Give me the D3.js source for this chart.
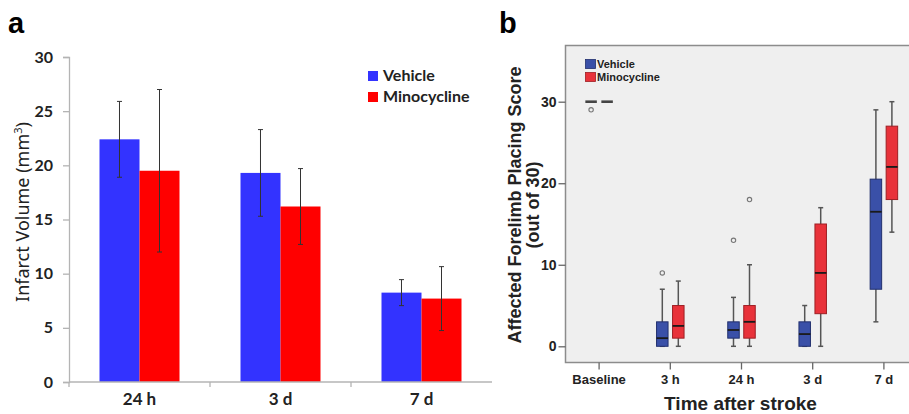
<!DOCTYPE html>
<html>
<head>
<meta charset="utf-8">
<script src="https://cdn.jsdelivr.net/npm/d3@7"></script>
<style>
  body { margin: 0; background: #fff; }
  svg { display: block; }
</style>
</head>
<body>
<div id="chart"></div>
<script>
// ---- panel a data: infarct volume (mean +/- error) ----
const catsA = ["24 h", "3 d", "7 d"];
const seriesNames = ["Vehicle", "Minocycline"];
const vehicleMean = [22.4, 19.3, 8.25];
const vehicleErr = [3.5, 4.0, 1.2];
const minoMean = [19.5, 16.2, 7.7];
const minoErr = [7.5, 3.5, 2.95];
const ticksA = [0, 5, 10, 15, 20, 25, 30];

// ---- panel b data: forelimb placing score boxplots ----
const catsB = ["Baseline", "3 h", "24 h", "3 d", "7 d"];
const vehLow = [30, 0, 0, 0, 3];
const vehQ1 = [30, 0, 1, 0, 7];
const vehMedian = [30, 1, 2, 1.5, 16.5];
const vehQ3 = [30, 3, 3, 3, 20.5];
const vehHigh = [30, 7, 6, 5, 29];
const vehOutliers = [[29], [9], [13], [], []];
const minoLow = [30, 0, 0, 0, 14];
const minoQ1 = [30, 1, 1, 4, 18];
const minoMedian = [30, 2.5, 3, 9, 22];
const minoQ3 = [30, 5, 5, 15, 27];
const minoHigh = [30, 8, 10, 17, 30];
const minoOutliers = [[], [], [18], [], []];
const ticksB = [0, 10, 20, 30];

const width = 909, height = 414;
const svg = d3.select("#chart").append("svg")
    .attr("width", width)
    .attr("height", height);

// ================= panel a =================
const fontA = "Lato, 'Open Sans', sans-serif";
const colorsA = {Vehicle: "#3333ff", Minocycline: "#ff0000"};

const x0 = d3.scaleBand().domain(catsA).range([69, 492]).paddingInner(0.4326).paddingOuter(0.2163);
const x1 = d3.scaleBand().domain(seriesNames).range([0, x0.bandwidth()]);
const yA = d3.scaleLinear().domain([0, 30]).range([382, 57]);

const barsA = [];
catsA.forEach((c, i) => {
  barsA.push({cat: c, s: "Vehicle", v: vehicleMean[i], e: vehicleErr[i]});
  barsA.push({cat: c, s: "Minocycline", v: minoMean[i], e: minoErr[i]});
});

const gA = svg.append("g");

// y axis
const yAxisA = gA.append("g")
    .attr("transform", "translate(69,0)")
    .call(d3.axisLeft(yA).tickValues(ticksA).tickSize(6).tickPadding(10));
yAxisA.select(".domain").attr("stroke", "#b4b4b4").attr("stroke-width", 1.3);
yAxisA.selectAll(".tick line").attr("stroke", "#b4b4b4").attr("stroke-width", 1.3);
yAxisA.selectAll(".tick text")
    .attr("font-family", fontA).attr("font-weight", "bold")
    .attr("font-size", 16).attr("fill", "#222");

// bars
gA.selectAll(".bar")
  .data(barsA)
  .enter().append("rect")
    .attr("x", d => x0(d.cat) + x1(d.s))
    .attr("y", d => yA(d.v))
    .attr("width", x1.bandwidth())
    .attr("height", d => yA(0) - yA(d.v))
    .attr("fill", d => colorsA[d.s]);

// error bars
const errG = gA.selectAll(".err")
  .data(barsA)
  .enter().append("g")
    .attr("stroke", "#333")
    .attr("stroke-width", 1);
errG.append("line")
    .attr("x1", d => x0(d.cat) + x1(d.s) + x1.bandwidth() / 2)
    .attr("x2", d => x0(d.cat) + x1(d.s) + x1.bandwidth() / 2)
    .attr("y1", d => yA(d.v + d.e))
    .attr("y2", d => yA(d.v - d.e));
errG.selectAll(".cap")
  .data(d => [d.v + d.e, d.v - d.e].map(v => ({d, v})))
  .enter().append("line")
    .attr("x1", p => x0(p.d.cat) + x1(p.d.s) + x1.bandwidth() / 2 - 2.5)
    .attr("x2", p => x0(p.d.cat) + x1(p.d.s) + x1.bandwidth() / 2 + 2.5)
    .attr("y1", p => yA(p.v))
    .attr("y2", p => yA(p.v));

// x axis
gA.append("line")
    .attr("x1", 69).attr("x2", 492)
    .attr("y1", yA(0)).attr("y2", yA(0))
    .attr("stroke", "#b4b4b4").attr("stroke-width", 1.3);
const sepTicks = [0, 1, 2];
gA.selectAll(".sep")
  .data(sepTicks)
  .enter().append("line")
    .attr("x1", i => x0.range()[0] + i * x0.step())
    .attr("x2", i => x0.range()[0] + i * x0.step())
    .attr("y1", yA(0)).attr("y2", yA(0) + 5)
    .attr("stroke", "#b4b4b4").attr("stroke-width", 1.3);
gA.selectAll(".xlab")
  .data(catsA)
  .enter().append("text")
    .attr("x", d => x0(d) + x0.bandwidth() / 2)
    .attr("y", 405)
    .attr("text-anchor", "middle")
    .attr("font-family", fontA).attr("font-weight", "bold")
    .attr("font-size", 17).attr("fill", "#222")
    .text(d => d);

// y title
const yTitleA = gA.append("text")
    .attr("transform", "translate(29,212) rotate(-90)")
    .attr("text-anchor", "middle")
    .attr("font-family", "'Noto Sans', sans-serif").attr("font-size", 18).attr("fill", "#222");
yTitleA.append("tspan").text("Infarct Volume (mm");
yTitleA.append("tspan").attr("font-size", 11).attr("dy", -7).text("3");
yTitleA.append("tspan").attr("dy", 7).text(")");

// legend
const legA = gA.selectAll(".legA")
  .data(seriesNames)
  .enter().append("g")
    .attr("transform", (d, i) => `translate(368,${71 + i * 21})`);
legA.append("rect").attr("width", 10).attr("height", 10).attr("fill", d => colorsA[d]);
legA.append("text")
    .attr("x", 15).attr("y", 10)
    .attr("font-family", fontA).attr("font-weight", "bold")
    .attr("font-size", 16).attr("fill", "#222")
    .text(d => d);

// panel letter
svg.append("text").attr("x", 8).attr("y", 33)
    .attr("font-family", "Liberation Sans, Arial, sans-serif")
    .attr("font-weight", "bold").attr("font-size", 29).text("a");

// ================= panel b =================
const fontB = "'Liberation Sans', Arial, sans-serif";
const colorsB = {Vehicle: "#3a50a8", Minocycline: "#e8323a"};
const strokeB = {Vehicle: "#22306e", Minocycline: "#9e1f24"};

const xB = d3.scaleBand().domain(catsB).range([563.5, 919.5]);
const offB = d3.scalePoint().domain(seriesNames).range([-8, 8]);
const yB = d3.scaleLinear().domain([0, 30]).range([346.3, 101.7]);

const gB = svg.append("g");

// plot frame
gB.append("rect")
    .attr("x", 565.5).attr("y", 45.5)
    .attr("width", 360).attr("height", 317)
    .attr("fill", "#efefef")
    .attr("stroke", "#8c8c8c").attr("stroke-width", 1.5);

// y axis ticks
const yAxisB = gB.append("g")
    .attr("transform", "translate(565.5,0)")
    .call(d3.axisLeft(yB).tickValues(ticksB).tickSize(7).tickPadding(2));
yAxisB.select(".domain").remove();
yAxisB.selectAll(".tick line").attr("stroke", "#666").attr("stroke-width", 1.3);
yAxisB.selectAll(".tick text")
    .attr("font-family", fontB).attr("font-weight", "bold")
    .attr("font-size", 14).attr("fill", "#222");

// x axis ticks
const xAxisB = gB.append("g")
    .attr("transform", "translate(0,362.5)")
    .call(d3.axisBottom(xB).tickSize(7).tickPadding(5));
xAxisB.select(".domain").remove();
xAxisB.selectAll(".tick line").attr("stroke", "#666").attr("stroke-width", 1.3);
xAxisB.selectAll(".tick text")
    .attr("font-family", fontB).attr("font-weight", "bold")
    .attr("font-size", 13).attr("fill", "#222");

// box data
const boxes = [];
catsB.forEach((c, i) => {
  boxes.push({cat: c, s: "Vehicle", lo: vehLow[i], q1: vehQ1[i], med: vehMedian[i], q3: vehQ3[i], hi: vehHigh[i], out: vehOutliers[i]});
  boxes.push({cat: c, s: "Minocycline", lo: minoLow[i], q1: minoQ1[i], med: minoMedian[i], q3: minoQ3[i], hi: minoHigh[i], out: minoOutliers[i]});
});
const cx = d => xB(d.cat) + xB.bandwidth() / 2 + offB(d.s);
const boxW = 11.5;

const bx = gB.selectAll(".box")
  .data(boxes)
  .enter().append("g");

// whiskers
bx.filter(d => d.hi > d.lo).append("line")
    .attr("x1", cx).attr("x2", cx)
    .attr("y1", d => yB(d.hi)).attr("y2", d => yB(d.lo))
    .attr("stroke", "#555").attr("stroke-width", 1.5);
bx.filter(d => d.hi > d.lo).selectAll(".cap")
  .data(d => [d.lo, d.hi].map(v => ({d, v})))
  .enter().append("line")
    .attr("x1", p => cx(p.d) - 2.5).attr("x2", p => cx(p.d) + 2.5)
    .attr("y1", p => yB(p.v)).attr("y2", p => yB(p.v))
    .attr("stroke", "#555").attr("stroke-width", 1.5);

// boxes
bx.filter(d => d.q3 > d.q1).append("rect")
    .attr("x", d => cx(d) - boxW / 2)
    .attr("y", d => yB(d.q3))
    .attr("width", boxW)
    .attr("height", d => yB(d.q1) - yB(d.q3))
    .attr("fill", d => colorsB[d.s])
    .attr("stroke", d => strokeB[d.s]).attr("stroke-width", 1);

// medians
bx.append("line")
    .attr("x1", d => cx(d) - boxW / 2).attr("x2", d => cx(d) + boxW / 2)
    .attr("y1", d => yB(d.med)).attr("y2", d => yB(d.med))
    .attr("stroke", d => d.q3 > d.q1 ? "#1a1a1a" : "#444")
    .attr("stroke-width", d => d.q3 > d.q1 ? 1.8 : 2.6);

// outliers
bx.selectAll(".out")
  .data(d => d.out.map(v => ({d, v})))
  .enter().append("circle")
    .attr("cx", p => cx(p.d))
    .attr("cy", p => yB(p.v))
    .attr("r", 2.2)
    .attr("fill", "none")
    .attr("stroke", "#777").attr("stroke-width", 1.1);

// legend
const legB = gB.selectAll(".legB")
  .data(seriesNames)
  .enter().append("g")
    .attr("transform", (d, i) => `translate(585.5,${59.5 + i * 13})`);
legB.append("rect").attr("width", 10).attr("height", 9)
    .attr("fill", d => colorsB[d]).attr("stroke", d => strokeB[d]).attr("stroke-width", 0.8);
legB.append("text")
    .attr("x", 11.5).attr("y", 8.5)
    .attr("font-family", fontB).attr("font-weight", "bold")
    .attr("font-size", 11).attr("fill", "#222")
    .text(d => d);

// axis titles
gB.append("text")
    .attr("x", xB.range()[0] + (xB.step() * 5) / 2 - 1).attr("y", 410)
    .attr("text-anchor", "middle")
    .attr("font-family", fontB).attr("font-weight", "bold")
    .attr("font-size", 19).attr("fill", "#222")
    .text("Time after stroke");
const yTitleB = gB.append("text")
    .attr("transform", "translate(521,205) rotate(-90)")
    .attr("text-anchor", "middle")
    .attr("font-family", fontB).attr("font-weight", "bold")
    .attr("font-size", 18).attr("fill", "#222");
yTitleB.append("tspan").attr("x", 0).attr("dy", 0).text("Affected Forelimb Placing Score");
yTitleB.append("tspan").attr("x", 0).attr("dy", 18).text("(out of 30)");

svg.append("text").attr("x", 499).attr("y", 33)
    .attr("font-family", fontB)
    .attr("font-weight", "bold").attr("font-size", 29).text("b");
</script>
</body>
</html>
